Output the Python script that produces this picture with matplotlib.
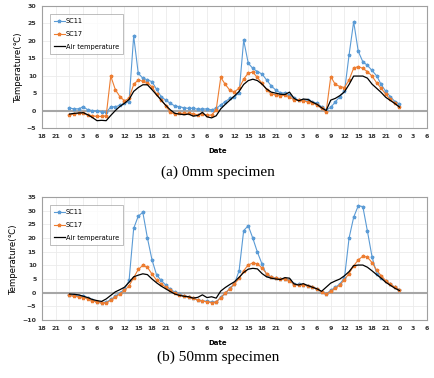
import numpy as np
import matplotlib
matplotlib.use('Agg')
import matplotlib.pyplot as plt

# hours since 0:00 of day 1
hours = np.arange(0, 73)

tick_pos = np.arange(-6, 79, 3)
tick_labels = ['18', '21', '0', '3', '6', '9', '12', '15', '18', '21', '0', '3', '6', '9', '12', '15',
               '18', '21', '0', '3', '6', '9', '12', '15', '18', '21', '0', '3', '6']

# (a) 0mm specimen
sc11_a = [0.7, 0.5, 0.5, 1.1, 0.2, 0.0, -0.2, -0.4, -0.5, 1.0, 1.1, 1.5, 2.1, 2.6, 21.4, 10.7,
          9.3, 8.8, 8.3, 6.1, 4.0, 3.0, 2.1, 1.3, 1.1, 0.8, 0.6, 0.6, 0.4, 0.4, 0.5, 0.2, 0.6,
          1.6, 2.6, 3.5, 4.0, 5.0, 20.2, 13.6, 12.1, 11.2, 10.5, 8.8, 7.1, 5.9, 5.1, 5.0, 4.6,
          3.5, 3.0, 3.0, 3.0, 2.5, 2.1, 1.1, 0.2, 0.9, 2.5, 4.0, 5.5, 16.0, 25.5, 17.0, 14.0,
          13.0, 11.5, 10.0, 7.5, 5.5, 4.0, 2.6, 1.9]
sc17_a = [-1.2, -1.0, -0.8, -0.8, -1.3, -1.5, -1.7, -1.7, -1.5, 9.9, 6.0, 4.0, 2.8, 3.5, 7.5, 8.8,
          8.4, 8.0, 6.8, 4.7, 3.0, 1.4, -0.5, -1.0, -0.8, -0.8, -0.8, -1.0, -1.2, -1.0, -1.3, -1.3,
          0.2, 9.5, 7.5, 5.8, 5.4, 6.4, 9.0, 10.8, 11.0, 9.5, 7.8, 6.0, 4.8, 4.5, 4.3, 4.4, 4.0,
          3.0, 2.9, 2.8, 2.5, 2.2, 1.6, 0.6, -0.3, 9.7, 7.5, 6.9, 6.6, 8.8, 12.2, 12.6, 12.1,
          11.2, 9.9, 8.0, 6.4, 4.7, 3.2, 2.1, 0.9]
air_a = [-1.0, -0.8, -0.7, -0.6, -1.2, -2.0, -2.9, -2.8, -2.9, -1.4, 0.0, 1.2, 2.1, 3.2, 5.5, 6.6,
         7.4, 7.4, 6.0, 4.5, 3.0, 1.5, 0.2, -0.8, -1.0, -1.2, -1.0, -1.6, -1.4, -0.5, -1.8, -2.1,
         -1.5, 0.5, 1.8, 3.0, 4.2, 5.5, 7.5, 8.6, 9.0, 8.6, 7.6, 6.2, 5.3, 5.0, 4.7, 4.6, 5.3,
         3.5, 2.8, 3.3, 3.2, 2.4, 1.8, 0.8, 0.0, 3.0, 3.5, 4.3, 5.4, 7.5, 9.9, 9.9, 9.9, 9.3,
         7.6, 6.4, 5.2, 3.8, 2.9, 2.0, 1.0]

# (b) 50mm specimen
sc11_b = [-0.8, -1.0, -1.2, -1.4, -2.0, -2.8, -3.3, -3.6, -3.5, -2.5, -1.3, 0.0, 1.2, 4.5, 23.5,
          28.0, 29.4, 20.0, 12.0, 6.5, 4.5, 2.8, 1.2, 0.2, -0.5, -1.2, -1.5, -2.0, -2.6, -3.0,
          -3.2, -3.5, -3.4, -1.7, -0.1, 1.6, 3.3, 8.0, 22.7, 24.5, 19.9, 14.8, 10.5, 6.5, 5.8,
          5.3, 5.0, 5.0, 4.5, 3.0, 3.0, 2.8, 2.5, 2.2, 1.2, 0.3, -0.4, 0.8, 2.0, 3.2, 5.5, 20.0,
          27.6, 31.8, 31.5, 22.5, 13.2, 7.0, 5.5, 4.2, 3.0, 2.0, 1.0]
sc17_b = [-1.0, -1.4, -1.5, -1.8, -2.2, -3.0, -3.5, -3.8, -3.7, -2.8, -1.6, -0.5, 0.8, 2.5, 5.5,
          8.5, 10.0, 9.3, 6.8, 4.6, 3.2, 2.0, 0.8, -0.2, -0.8, -1.4, -1.7, -2.1, -2.7, -3.1, -3.3,
          -3.6, -3.5, -1.8, -0.2, 1.5, 3.2, 5.2, 8.0, 10.2, 10.8, 10.6, 9.0, 7.0, 5.6, 5.2, 4.9,
          5.0, 4.4, 2.9, 2.9, 2.8, 2.5, 2.2, 1.2, 0.3, -0.5, 0.5, 1.6, 2.8, 4.8, 7.0, 9.8, 12.0,
          13.3, 13.0, 11.0, 8.3, 6.2, 4.4, 3.1, 2.0, 1.0]
air_b = [-0.5, -0.6, -0.8, -1.3, -1.8, -2.5, -2.9, -3.2, -2.3, -1.0, 0.3, 1.1, 2.0, 3.8, 5.8, 6.4,
         6.9, 6.6, 5.0, 3.6, 2.4, 1.4, 0.4, -0.5, -1.0, -1.3, -1.5, -2.0, -1.7, -0.8, -1.8, -1.5,
         -2.0, 0.6, 1.9, 3.0, 4.0, 5.6, 7.4, 8.6, 8.9, 8.7, 7.0, 5.8, 5.3, 5.0, 4.8, 5.5, 5.3,
         3.2, 2.8, 3.3, 2.6, 2.0, 1.4, 0.5, 2.0, 3.5, 4.3, 5.0, 6.2, 7.7, 9.9, 10.1, 10.1, 9.3,
         8.0, 6.6, 5.3, 3.8, 2.7, 1.6, 0.8]

panels = [
    (sc11_a, sc17_a, air_a, (-5, 30), [42, 6, 427, 128], '(a) 0mm specimen', 151, 172),
    (sc11_b, sc17_b, air_b, (-10, 35), [42, 197, 427, 320], '(b) 50mm specimen', 343, 357),
]

W, H = 435, 378
fig = plt.figure(figsize=(W / 100, H / 100), dpi=100)

for sc11, sc17, air, ylim, box, caption, date_y, cap_y in panels:
    x0, y0, x1, y1 = box
    ax = fig.add_axes([x0 / W, 1 - y1 / H, (x1 - x0) / W, (y1 - y0) / H])
    ax.plot(hours, sc11, color='#5B9BD5', lw=0.8, marker='*', ms=2.5, label='SC11', zorder=3)
    ax.plot(hours, sc17, color='#ED7D31', lw=0.8, marker='*', ms=2.5, label='SC17', zorder=4)
    ax.plot(hours, air, color='black', lw=0.9, label='Air temperature', zorder=5)
    ax.axhline(0, color='#A6A6A6', lw=1.5, zorder=2)
    ax.set_xlim(-6, 78)
    ax.set_ylim(*ylim)
    ax.set_xticks(tick_pos)
    ax.set_xticklabels(tick_labels)
    ax.set_yticks(np.arange(ylim[0], ylim[1] + 1, 5))
    ax.grid(True, color='#EBEBEB', lw=0.6)
    ax.set_axisbelow(True)
    ax.tick_params(length=0, labelsize=4.5, pad=4, labelcolor='#333333')
    for lab in ax.get_xticklabels() + ax.get_yticklabels():
        lab.set_fontweight('bold')
    for s in ax.spines.values():
        s.set_color('#A0A0A0')
        s.set_linewidth(0.8)
    ax.set_ylabel('Temperature(℃)', fontsize=6.8, fontstretch='condensed', labelpad=3)
    leg = ax.legend(loc='upper left', bbox_to_anchor=(0.012, 0.96), fontsize=4.8, frameon=True,
                    fancybox=False, edgecolor='#A0A0A0', handlelength=1.6, borderpad=0.6,
                    labelspacing=1.0, handletextpad=0.2)
    leg.get_frame().set_linewidth(0.6)
    fig.text(218 / W, 1 - date_y / H, 'Date', ha='center', va='center', fontsize=5, fontweight='bold')
    fig.text(218 / W, 1 - cap_y / H, caption, ha='center', va='center', fontsize=11,
             family='Liberation Serif')

fig.savefig('out.png', dpi=100)
